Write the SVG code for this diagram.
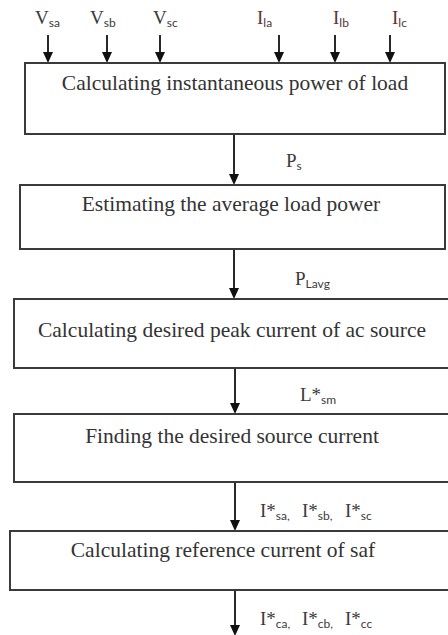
<svg xmlns="http://www.w3.org/2000/svg" width="448" height="635" viewBox="0 0 448 635">
<defs>
<style>
.box{fill:#fff;stroke:#3a3a3a;stroke-width:2}
.t{font-family:"Liberation Serif","Times New Roman",serif;font-size:21.5px;fill:#333;text-anchor:middle}
.lb{font-family:"Liberation Serif","Times New Roman",serif;font-size:19px;fill:#3a3a3a}
.lr{fill:#5a3535}
.sb{font-family:Lato,"Liberation Sans",sans-serif;font-size:12px}
.c{stroke:#111;stroke-width:1.8;fill:none}
.h{fill:#111}
</style>
</defs>
<rect width="448" height="635" fill="#fff"/>
<g id="connectors">
<path class="c" d="M48,35 V52"/><path class="h" d="M43,52 L53,52 L48,63 Z"/>
<path class="c" d="M107,35 V52"/><path class="h" d="M102,52 L112,52 L107,63 Z"/>
<path class="c" d="M160,35 V52"/><path class="h" d="M155,52 L165,52 L160,63 Z"/>
<path class="c" d="M279,35 V52"/><path class="h" d="M274,52 L284,52 L279,63 Z"/>
<path class="c" d="M335,35 V52"/><path class="h" d="M330,52 L340,52 L335,63 Z"/>
<path class="c" d="M390,35 V52"/><path class="h" d="M385,52 L395,52 L390,63 Z"/>
<path class="c" d="M234,134 V174"/><path class="h" d="M229,174 L239,174 L234,185 Z"/>
<path class="c" d="M234,249 V288"/><path class="h" d="M229,288 L239,288 L234,299 Z"/>
<path class="c" d="M235,368 V403"/><path class="h" d="M230,403 L240,403 L235,414 Z"/>
<path class="c" d="M235,482 V520"/><path class="h" d="M230,520 L240,520 L235,531 Z"/>
<path class="c" d="M235,590 V625"/><path class="h" d="M230,625 L240,625 L235,636 Z"/>
</g>
<g id="inputs">
<text class="lb" x="35" y="24">V<tspan class="sb" dy="3">sa</tspan></text>
<text class="lb" x="90" y="24">V<tspan class="sb" dy="3">sb</tspan></text>
<text class="lb" x="153" y="24">V<tspan class="sb" dy="3">sc</tspan></text>
<text class="lb lr" x="257" y="24">I<tspan class="sb" dy="3">la</tspan></text>
<text class="lb lr" x="333" y="24">I<tspan class="sb" dy="3">lb</tspan></text>
<text class="lb lr" x="392" y="24">I<tspan class="sb" dy="3">lc</tspan></text>
</g>
<g id="node1">
<rect class="box" x="25" y="63" width="420" height="71"/>
<text class="t" x="235" y="90">Calculating instantaneous power of load</text>
</g>
<g id="node2">
<rect class="box" x="20" y="185" width="425" height="64"/>
<text class="t" x="231" y="211">Estimating the average load power</text>
</g>
<g id="node3">
<rect class="box" x="14" y="299" width="440" height="69"/>
<text class="t" x="232" y="337">Calculating desired peak current of ac source</text>
</g>
<g id="node4">
<rect class="box" x="14" y="414" width="440" height="68"/>
<text class="t" x="232" y="443">Finding the desired source current</text>
</g>
<g id="node5">
<rect class="box" x="10" y="531" width="444" height="59"/>
<text class="t" x="223" y="557">Calculating reference current of saf</text>
</g>
<g id="labels">
<text class="lb" x="286" y="167">P<tspan class="sb" dy="3">s</tspan></text>
<text class="lb" x="295" y="285">P<tspan class="sb" dy="3">Lavg</tspan></text>
<text class="lb" x="300" y="401">L*<tspan class="sb" dy="3">sm</tspan></text>
<text class="lb" x="260" y="517">I*<tspan class="sb" dy="3">sa,</tspan><tspan dy="-3" x="302">I*</tspan><tspan class="sb" dy="3">sb,</tspan><tspan dy="-3" x="345">I*</tspan><tspan class="sb" dy="3">sc</tspan></text>
<text class="lb" x="260" y="625">I*<tspan class="sb" dy="3">ca,</tspan><tspan dy="-3" x="302">I*</tspan><tspan class="sb" dy="3">cb,</tspan><tspan dy="-3" x="345">I*</tspan><tspan class="sb" dy="3">cc</tspan></text>
</g>
</svg>
